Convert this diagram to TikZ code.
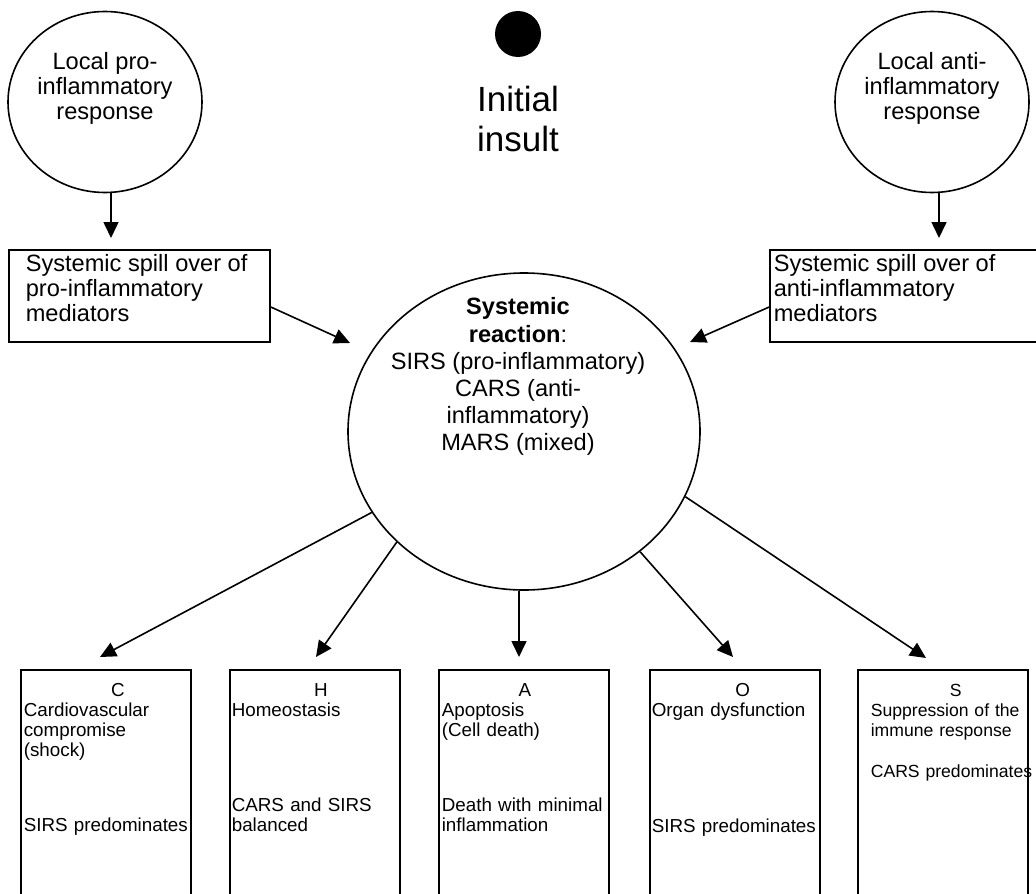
\documentclass[tikz,border=0pt]{standalone}
\usepackage{fontspec}
\setmainfont{Liberation Sans}
\usetikzlibrary{arrows.meta,positioning,calc,shapes.geometric}

\begin{document}
\begin{tikzpicture}[x=1pt,y=-1pt,line width=1.6pt,
	arr/.style={-{Triangle[length=16pt,width=15pt]}},
	bubble/.style={draw,ellipse,inner sep=0pt},
	spillbox/.style={draw,rectangle,minimum height=92pt,inner sep=0pt},
	outbox/.style={draw,rectangle,anchor=north,minimum width=170pt,minimum height=240pt,inner sep=0pt},
	bigtxt/.style={font=\fontsize{23.6pt}{25pt}\selectfont,inner sep=0pt},
	outtxt/.style={font=\fontsize{18.8pt}{20pt}\selectfont,inner sep=0pt,anchor=north west,align=left,text width=200pt}]
	\useasboundingbox (0,0) rectangle (1036,894);
	\clip (0,0) rectangle (1036,894);
	
	% top row
	\node[bubble,minimum width=194pt,minimum height=181pt] (lpro) at (105,102) {};
	\node[bigtxt,anchor=north,align=center] (lpro-txt) at (105,52) {Local pro-\\inflammatory\\response};
	
	\node[bubble,minimum width=194pt,minimum height=181pt] (lanti) at (932,102) {};
	\node[bigtxt,anchor=north,align=center] (lanti-txt) at (932,52) {Local anti-\\inflammatory\\response};
	
	\node[circle,fill,minimum size=46pt,inner sep=0pt] (insult) at (518,34) {};
	\node[inner sep=0pt,anchor=north,align=center,font=\fontsize{35pt}{40pt}\selectfont] (insult-txt) at (518,85) {Initial\\insult};
	
	% spill over
	\node[spillbox,minimum width=261pt] (lspill) at (139.5,296) {};
	\node[bigtxt,anchor=north west,align=left] (lspill-txt) at (25,254) {Systemic spill over of\\pro-inflammatory\\mediators};
	
	\node[spillbox,minimum width=270pt] (rspill) at (905,296) {};
	\node[bigtxt,anchor=north west,align=left] (rspill-txt) at (773,254) {Systemic spill over of\\anti-inflammatory\\mediators};
	
	\coordinate (lpro-tip) at (111,238);
	\coordinate (lanti-tip) at (939,238);
	\draw[arr] (lpro.south -| lpro-tip) -- (lpro-tip);
	\draw[arr] (lanti.south -| lanti-tip) -- (lanti-tip);
	
	% systemic reaction
	\node[bubble,minimum width=352pt,minimum height=317pt] (sys) at (524,431.5) {};
	\node[bigtxt,anchor=north,align=center,font=\fontsize{23.6pt}{27.2pt}\selectfont] (sys-txt) at (518,297)
		{\textbf{Systemic}\\\textbf{reaction}:\\SIRS (pro-inflammatory)\\CARS (anti-\\inflammatory)\\MARS (mixed)};
	
	\coordinate (lspill-tip) at (350,343);
	\coordinate (rspill-tip) at (690,342);
	\draw[arr] ($(lspill.east)+(0,11)$) -- (lspill-tip);
	\draw[arr] ($(rspill.west)+(0,11)$) -- (rspill-tip);
	
	% outcomes
	\node[outbox] (C) at (106,669) {};
	\node[outbox] (H) at (315,669) {};
	\node[outbox] (A) at (524,669) {};
	\node[outbox] (O) at (735,669) {};
	\node[outbox] (S) at (943,669) {};
	
	\node[outtxt] (C-txt) at (23,683) {\makebox[188pt]{C}\\Cardiovascular\\compromise\\(shock)\\[55pt]SIRS predominates};
	\node[outtxt] (H-txt) at (231,683) {\makebox[178pt]{H}\\Homeostasis\\[75pt]CARS and SIRS\\balanced};
	\node[outtxt] (A-txt) at (441,683) {\makebox[166pt]{A}\\Apoptosis\\(Cell death)\\[55pt]Death with minimal\\inflammation};
	\node[outtxt] (O-txt) at (651,683) {\makebox[182pt]{O}\\Organ dysfunction\\[96pt]SIRS predominates};
	\node[outtxt,font=\fontsize{17.6pt}{20pt}\selectfont] (S-txt) at (870,683) {\makebox[170pt]{S}\\Suppression of the\\immune response\\[21pt]CARS predominates};
	
	\coordinate (C-tip) at (100,657);
	\coordinate (H-tip) at (316,657);
	\coordinate (A-tip) at (519,657);
	\coordinate (O-tip) at (733,657);
	\coordinate (S-tip) at (926,658);
	\draw[arr] (sys.208) -- (C-tip);
	\draw[arr] (sys.221) -- (H-tip);
	\draw[arr] (sys.south -| A-tip) -- (A-tip);
	\draw[arr] (sys.314) -- (O-tip);
	\draw[arr] (sys.338) -- (S-tip);
\end{tikzpicture}
\end{document}
